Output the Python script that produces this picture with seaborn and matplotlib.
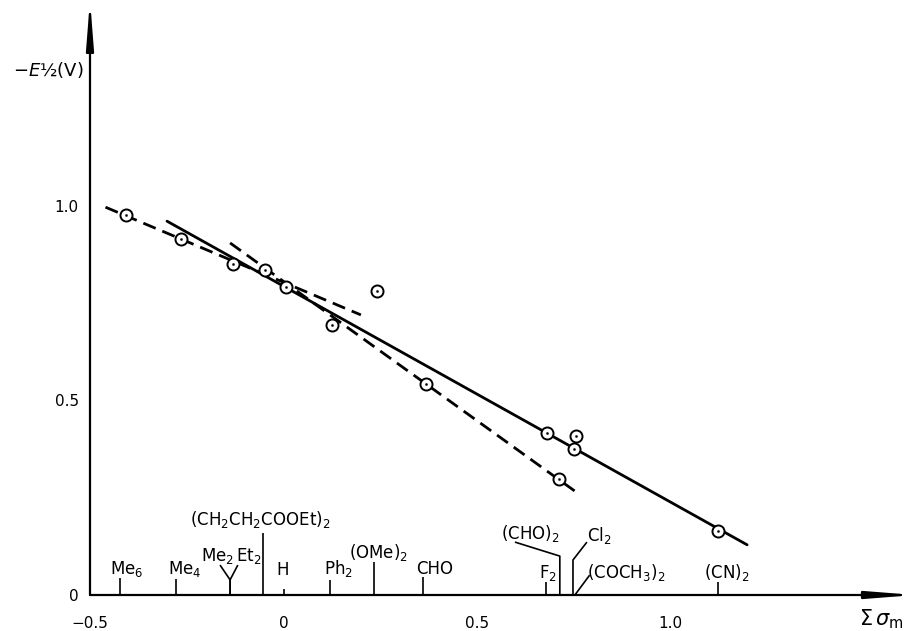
import seaborn as sns
import pandas as pd
import matplotlib.pyplot as plt
import numpy as np

# measured points: sum of sigma_m vs -E1/2 (V)
sigma_pts = [-0.407, -0.265, -0.130, -0.048, 0.006, 0.242, 0.125, 0.368,
             0.681, 0.756, 0.751, 0.712, 1.123]
e_half = [0.977, 0.915, 0.851, 0.835, 0.792, 0.781, 0.694, 0.542,
          0.416, 0.409, 0.375, 0.298, 0.165]

# fitted lines (end points)
solid_x = [-0.301, 1.198]
solid_y = [0.961, 0.129]
dashA_x = [-0.46, 0.200]
dashA_y = [0.997, 0.720]
dashB_x = [-0.138, 0.753]
dashB_y = [0.905, 0.267]

# substituents marked on the sigma axis
subst_names = ['Me$_6$', 'Me$_4$', 'Me$_2$', 'Et$_2$', '(CH$_2$CH$_2$COOEt)$_2$',
               'H', 'Ph$_2$', '(OMe)$_2$', 'CHO', 'F$_2$', '(CHO)$_2$',
               'Cl$_2$', '(COCH$_3$)$_2$', '(CN)$_2$']
subst_sigma = [-0.422, -0.278, -0.138, -0.138, -0.053, 0.0, 0.120, 0.234,
               0.360, 0.678, 0.714, 0.748, 0.753, 1.123]

# layout of the labels: (label x, label y, leader path)
label_layout = [
    (-0.404, 0.067, [(0, 0.044)]),
    (-0.255, 0.067, [(0, 0.041)]),
    (-0.170, 0.100, [(0, 0.039), (-0.026, 0.077)]),
    (-0.090, 0.100, [(0, 0.039), (0.020, 0.077)]),
    (-0.061, 0.193, [(0, 0.159)]),
    (-0.001, 0.064, [(0, 0.015)]),
    (0.141, 0.067, [(0, 0.039)]),
    (0.245, 0.108, [(0, 0.085)]),
    (0.391, 0.067, [(0, 0.046)]),
    (0.683, 0.057, [(0, 0.033)]),
    (0.637, 0.157, [(0, 0.100), (-0.116, 0.136)]),
    (0.815, 0.154, [(0, 0.090), (0.036, 0.136)]),
    (0.885, 0.059, [(0.038, 0.051)]),
    (1.146, 0.059, [(0, 0.033)]),
]

sns.set_style('white')
plt.rcParams['font.family'] = ['DejaVu Sans']
plt.rcParams['mathtext.fontset'] = 'dejavusans'
plt.rcParams['text.color'] = 'black'

fig = plt.figure(figsize=(9.08, 6.31), dpi=100)
W, H = 908, 631
ax = fig.add_axes([90 / W, 36 / H, 2.1 * 387 / W, 1.5 * 389 / H])
ax.set_xlim(-0.5, 1.6)
ax.set_ylim(0, 1.5)
for s in ax.spines.values():
    s.set_visible(False)

# axes with arrows
arrow = dict(arrowstyle='-|>,head_length=2.8,head_width=0.22', color='black',
             lw=1.6, shrinkA=0, shrinkB=0)
ax.annotate('', xy=(1.632, 0), xytext=(-0.5, 0), arrowprops=arrow,
            annotation_clip=False)
ax.annotate('', xy=(-0.5, 1.53), xytext=(-0.5, 0), arrowprops=arrow,
            annotation_clip=False)

# fit lines
lw = 2.0
dash = (0, (4.8, 2.6))
sns.lineplot(x=solid_x, y=solid_y, color='black', lw=lw, ax=ax)
sns.lineplot(x=dashA_x, y=dashA_y, color='black', lw=lw, ax=ax,
             linestyle=dash)
sns.lineplot(x=dashB_x, y=dashB_y, color='black', lw=lw, ax=ax,
             linestyle=dash)

# points: open circle with centre dot
pts = pd.DataFrame({'sigma': sigma_pts, 'E': e_half})
sns.scatterplot(data=pts, x='sigma', y='E', s=75, facecolor='white',
                edgecolor='black', linewidth=1.4, zorder=3, ax=ax)
sns.scatterplot(data=pts, x='sigma', y='E', s=3, color='black',
                edgecolor='black', zorder=4, ax=ax)

# substituent marks
for name, sx, (lx, ly, path) in zip(subst_names, subst_sigma, label_layout):
    xs = [sx] + [sx + dx for dx, _ in path]
    ys = [0] + [y for _, y in path]
    ax.plot(xs, ys, color='black', lw=1.2, solid_capstyle='butt')
    ax.text(lx, ly, name, ha='center', va='center', fontsize=12,
            color='black')

# ticks
ax.set_xticks([-0.5, 0, 0.5, 1.0])
ax.set_xticklabels(['\u22120.5', '0', '0.5', '1.0'])
ax.set_yticks([0, 0.5, 1.0])
ax.set_yticklabels(['0', '0.5', '1.0'])
ax.tick_params(axis='both', direction='inout', length=10, width=1.2,
               labelsize=11, colors='black')
ax.tick_params(axis='x', pad=10)
ax.tick_params(axis='y', pad=3)
ax.set_xlabel('')
ax.set_ylabel('')

fig.text(84 / W, 1 - 70 / H, '$-E$\u00bd(V)', ha='right', va='center',
         fontsize=13, color='black')
fig.text(904 / W, 1 - 619 / H, r'$\Sigma\,\sigma_\mathrm{m}$', ha='right',
         va='center', fontsize=15, color='black')

fig.savefig('out.png', dpi=100)
